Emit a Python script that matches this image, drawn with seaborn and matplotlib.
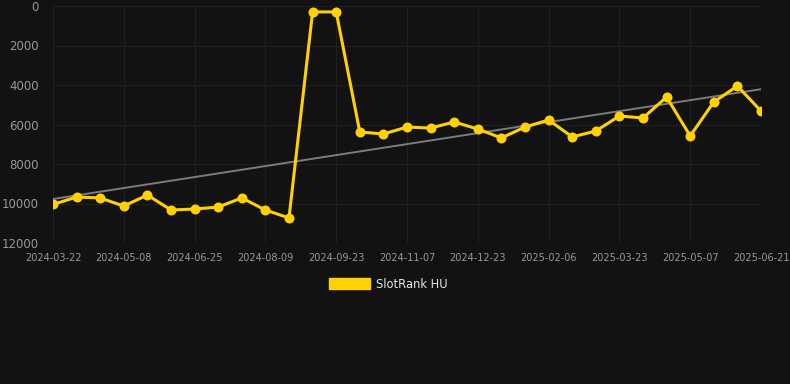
import numpy as np
import pandas as pd
import matplotlib
matplotlib.use("Agg")
import matplotlib.pyplot as plt
import seaborn as sns
from matplotlib.patches import Patch

# ---- data ----
ranks = [10050, 9670, 9720, 10130, 9570, 10330, 10280, 10180, 9720, 10330,
         10730, 300, 300, 6380, 6480, 6130, 6180, 5870, 6230, 6680,
         6130, 5770, 6630, 6330, 5570, 5670, 4610, 6580, 4860, 4050, 5320]
tick_labels = ["2024-03-22", "2024-05-08", "2024-06-25", "2024-08-09", "2024-09-23",
               "2024-11-07", "2024-12-23", "2025-02-06", "2025-03-23", "2025-05-07",
               "2025-06-21"]
series_name = "SlotRank HU"

BG = "#121212"
GOLD = "#FFD100"

sns.set_theme(style="dark")
plt.rcParams['font.family'] = ['DejaVu Sans']

fig = plt.figure(figsize=(7.9, 3.84), dpi=100, facecolor=BG)
ax = fig.add_axes([53/790, 1-243/384, (761-53)/790, (243-6)/384])
ax.set_facecolor(BG)

idx = np.arange(len(ranks))
df = pd.DataFrame({"i": idx, "rank": ranks})

# trend line (linear fit of the series)
coef = np.polyfit(idx, ranks, 1)
trend = np.polyval(coef, idx)
ax.plot(idx, trend, color="#7c7c7c", lw=1.4, zorder=2)

sns.lineplot(data=df, x="i", y="rank", ax=ax, color=GOLD, lw=2.2,
             marker="o", markersize=7.2, markeredgewidth=0, zorder=3,
             legend=False)

ax.set_xlim(0, len(ranks) - 1)
ax.set_ylim(12000, 0)
ax.set_yticks([0, 2000, 4000, 6000, 8000, 10000, 12000])
ax.set_xticks(idx[::3])
ax.set_xticklabels(tick_labels)
ax.set_xlabel("")
ax.set_ylabel("")

ax.grid(True, color="#1f1f1f", lw=0.8)
for s in ax.spines.values():
    s.set_visible(False)
ax.tick_params(axis="y", colors="#999999", labelsize=8.5, length=0, pad=10)
ax.tick_params(axis="x", colors="#999999", labelsize=7, length=4, width=0.8,
               color="#1f1f1f", pad=3)
for lab in ax.get_yticklabels() + ax.get_xticklabels():
    lab.set_color("#999999")

handles = [Patch(facecolor=GOLD, edgecolor=GOLD, label=series_name)]
leg = fig.legend(handles=handles, loc="center", bbox_to_anchor=(388/790, 1-284/384),
                 frameon=False, fontsize=8.3, handlelength=3.6, handleheight=1.0,
                 handletextpad=0.5)
for t in leg.get_texts():
    t.set_color("#e6e6e6")

fig.savefig("out.png", dpi=100, facecolor=BG)
